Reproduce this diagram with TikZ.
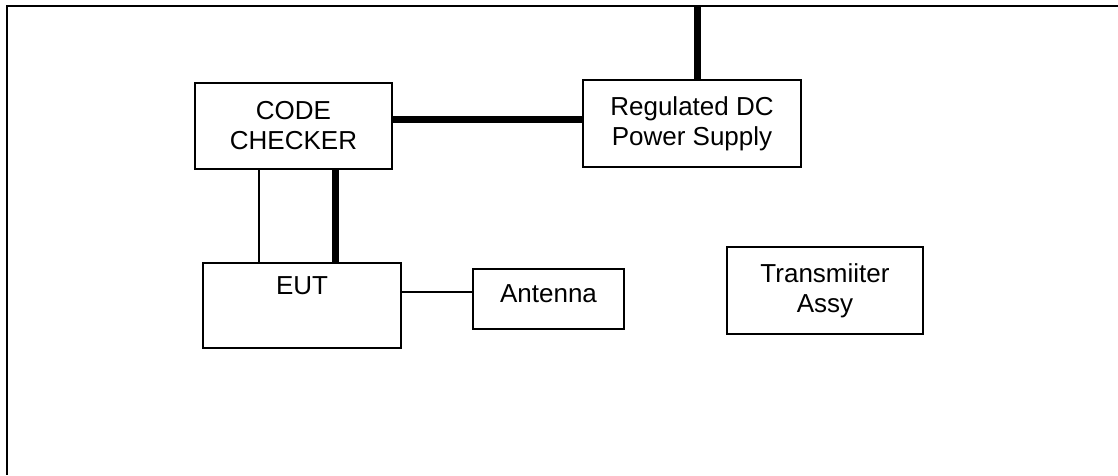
\documentclass[tikz,border=0pt]{standalone}
\usepackage{fontspec}
\setmainfont{Liberation Sans}
\usetikzlibrary{calc}
\begin{document}
\begin{tikzpicture}[x=1pt,y=-1pt,
  blk/.style={draw, line width=2pt, inner sep=0pt, align=center,
    font=\fontsize{26}{30}\selectfont},
  thin/.style={line width=2pt},
  thick/.style={line width=7pt},
  frame/.style={line width=2.5pt}]
\useasboundingbox (0,0) rectangle (1118,475);
\draw[frame] (1118,6) -- (7,6) -- (7,475);
\node[blk, minimum width=197pt, minimum height=86pt] (cc) at (293.5,126) {CODE\\CHECKER};
\node[blk, minimum width=218pt, minimum height=87pt] (ps) at (692,123.5) {Regulated DC\\Power Supply};
\node[blk, minimum width=198pt, minimum height=85pt] (eut) at (302,305.5) {EUT\\\strut};
\node[blk, minimum width=151pt, minimum height=60pt, text depth=10pt] (ant) at (548.5,299) {Antenna};
\node[blk, minimum width=196pt, minimum height=87pt] (tx) at (825,290.5) {Transmiiter\\Assy};
\coordinate (top) at (697,6);
\draw[thick] ($(cc.east)+(0,-7)$) -- ($(ps.west)+(0,-4.5)$);
\draw[thick] (ps.north -| top) -- (top);
\draw[thin] (cc.south -| 259,0) -- (eut.north -| 259,0);
\draw[thick] (cc.south -| 335,0) -- (eut.north -| 335,0);
\draw[thin] ($(eut.east)+(0,-13.5)$) -- ($(ant.west)+(0,-7)$);
\end{tikzpicture}
\end{document}
